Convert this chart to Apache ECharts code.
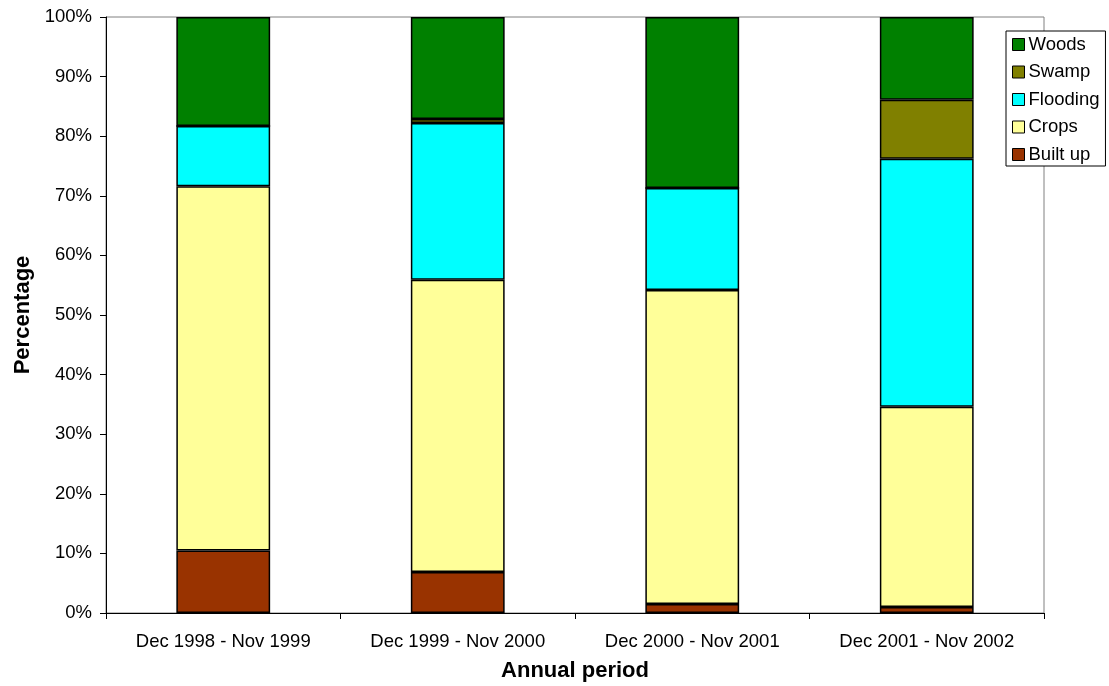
<!DOCTYPE html>
<html>
<head>
<meta charset="utf-8">
<script src="https://cdn.jsdelivr.net/npm/echarts@6/dist/echarts.min.js"></script>
<style>
  html, body { margin: 0; padding: 0; background: #fff; }
  #chart { width: 1109px; height: 686px; }
</style>
</head>
<body>
<div id="chart"></div>
<script>
// Land-cover shares per annual period (percent of total area)
const periods = ['Dec 1998 - Nov 1999', 'Dec 1999 - Nov 2000', 'Dec 2000 - Nov 2001', 'Dec 2001 - Nov 2002'];
const builtUp  = [10.5, 6.9, 1.5, 1.0];
const crops    = [61.1, 49.0, 52.7, 33.6];
const flooding = [10.1, 26.3, 17.1, 41.6];
const swamp    = [0.0, 0.7, 0.0, 9.9];
const woods    = [18.3, 17.1, 28.7, 13.9];

const FONT = '"Liberation Sans", Arial, sans-serif';

const layers = [
  { name: 'Built up', data: builtUp,  color: '#993300' },
  { name: 'Crops',    data: crops,    color: '#FFFF99' },
  { name: 'Flooding', data: flooding, color: '#00FFFF' },
  { name: 'Swamp',    data: swamp,    color: '#808000' },
  { name: 'Woods',    data: woods,    color: '#008000' }
];

const chart = echarts.init(document.getElementById('chart'), null, { renderer: 'canvas' });

chart.setOption({
  animation: false,
  backgroundColor: '#ffffff',
  textStyle: { fontFamily: FONT },
  grid: {
    left: 106, right: 65, top: 17, bottom: 73,
    outerBoundsMode: 'none',
    containLabel: false,
    show: true, borderColor: '#808080', borderWidth: 1, backgroundColor: 'transparent'
  },
  legend: {
    orient: 'vertical',
    left: 1006, top: 31,
    data: ['Woods', 'Swamp', 'Flooding', 'Crops', 'Built up'],
    itemWidth: 12, itemHeight: 12, itemGap: 8.5,
    icon: 'rect',
    padding: [4, 6, 2, 6],
    borderColor: '#000', borderWidth: 1,
    backgroundColor: '#fff',
    textStyle: { fontFamily: FONT, fontSize: 18.5, color: '#000', padding: [0, 0, 0, -1] },
    itemStyle: { borderColor: '#000', borderWidth: 1 }
  },
  xAxis: {
    type: 'category',
    data: periods,
    name: 'Annual period',
    nameLocation: 'middle',
    nameGap: 47,
    nameTextStyle: { fontFamily: FONT, fontSize: 22, fontWeight: 'bold', color: '#000' },
    axisLine: { lineStyle: { color: '#000', width: 1 } },
    axisTick: { show: true, length: 6, lineStyle: { color: '#000' } },
    axisLabel: { fontFamily: FONT, fontSize: 18.5, color: '#000', margin: 19 }
  },
  yAxis: {
    type: 'value',
    min: 0, max: 100, interval: 10,
    name: 'Percentage',
    nameLocation: 'middle',
    nameGap: 72,
    nameTextStyle: { fontFamily: FONT, fontSize: 22, fontWeight: 'bold', color: '#000' },
    axisLine: { show: true, lineStyle: { color: '#000', width: 1 } },
    axisTick: { show: true, length: 6, lineStyle: { color: '#000' } },
    axisLabel: { fontFamily: FONT, fontSize: 18.5, color: '#000', margin: 14, formatter: '{value}%' },
    splitLine: { show: false }
  },
  series: layers.map(l => ({
    name: l.name,
    type: 'bar',
    stack: 'total',
    data: l.data,
    barWidth: '40%',
    itemStyle: { color: l.color, borderColor: '#000', borderWidth: 1.5 },
    emphasis: { disabled: true }
  }))
});
</script>
</body>
</html>
